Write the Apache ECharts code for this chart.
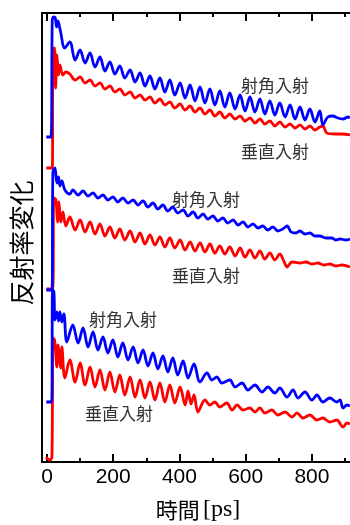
<!DOCTYPE html>
<html>
<head>
<meta charset="utf-8">
<script src="https://cdn.jsdelivr.net/npm/echarts@6/dist/echarts.min.js"></script>
<style>
  html, body { margin: 0; padding: 0; background: #fff; }
  #chart { width: 350px; height: 525px; }
</style>
</head>
<body>
<div id="chart"></div>
<script>
// time axis ticks [ps]
const majorTicks = [0, 200, 400, 600, 800]
const minorTicks = [100, 300, 500, 700, 900]

const obliqueLabel = "射角入射"
const normalLabel = "垂直入射"

// [time ps, reflectance change (arb., offset per pair)]
const topOblique = [[-2,325],[12,325],[16,442],[20,445],[25,444],[29,435],[33,441],[40,432],[54,414],[69,420],[85,402],[100,412],[115,399],[130,409],[145,395],[160,405],[175,391],[190,400],[205,388],[220,396],[235,384],[251,392],[266,380],[281,389],[296,376],[311,386],[326,373],[341,384],[356,370],[371,382],[386,367],[402,379],[417,364],[432,377],[447,361],[462,375],[477,359],[492,373],[507,357],[522,371],[537,355],[552,369],[568,353],[583,367],[598,351],[613,365],[628,350],[643,363],[658,348],[673,361],[688,347],[703,359],[719,345],[734,357],[749,343],[764,355],[779,342],[794,353],[809,340],[824,351],[833,337],[848,345],[863,346],[878,344],[894,343],[909,345],[915,344]]

const topNormal = [[-2,294],[16,294],[18,412],[23,414],[26,374],[30,407],[35,387],[39,397],[48,387],[57,390],[69,388],[85,382],[100,385],[115,379],[130,382],[145,376],[160,379],[175,373],[190,376],[205,370],[220,373],[235,367],[251,370],[266,364],[281,367],[296,362],[311,365],[326,359],[341,363],[356,357],[371,360],[386,354],[402,358],[417,352],[432,356],[447,350],[462,354],[477,348],[492,352],[507,346],[522,350],[537,344],[552,348],[568,343],[583,346],[598,341],[613,344],[628,339],[643,343],[658,338],[673,341],[688,336],[703,340],[719,335],[734,338],[749,334],[764,337],[779,333],[794,336],[809,332],[824,335],[833,336],[845,329],[869,328],[891,328],[915,327]]

const midOblique = [[-2,172],[15,172],[18,290],[24,294],[30,279],[35,285],[39,276],[45,281],[54,272],[69,268],[78,272],[94,267],[109,271],[124,266],[139,269],[154,264],[169,267],[184,262],[199,265],[214,260],[229,264],[245,259],[260,262],[275,257],[290,261],[305,255],[320,259],[335,253],[350,257],[365,251],[380,255],[395,249],[411,252],[426,246],[441,250],[456,244],[471,248],[486,243],[501,246],[516,241],[531,244],[546,239],[562,242],[577,237],[592,240],[607,235],[622,238],[637,234],[652,236],[667,232],[682,235],[697,231],[712,233],[725,236],[737,230],[752,229],[764,231],[779,228],[794,229],[809,226],[824,226],[842,224],[860,224],[872,222],[885,223],[903,222],[915,223]]

const midNormal = [[-2,173],[17,173],[21,264],[27,262],[32,240],[36,260],[42,240],[48,250],[57,236],[69,245],[85,232],[100,242],[115,230],[130,240],[145,228],[160,238],[175,226],[190,235],[205,224],[220,233],[235,222],[251,231],[266,220],[281,229],[296,218],[311,227],[326,217],[341,225],[356,215],[371,224],[386,214],[402,222],[417,212],[432,220],[447,211],[462,219],[477,210],[492,218],[507,209],[522,216],[537,208],[552,215],[568,206],[583,214],[598,205],[613,212],[628,204],[643,211],[658,203],[673,209],[688,202],[703,208],[715,201],[725,195],[740,200],[764,199],[782,200],[800,198],[818,199],[836,197],[854,198],[872,196],[891,197],[915,195]]

const lowOblique = [[-2,60],[14,60],[17,172],[21,170],[24,142],[30,150],[35,141],[39,150],[45,140],[51,148],[60,120],[78,137],[94,119],[109,134],[124,115],[139,130],[154,112],[169,125],[184,109],[199,122],[214,105],[229,119],[245,102],[260,115],[275,99],[290,112],[305,96],[320,109],[335,93],[350,106],[365,90],[380,104],[395,87],[411,101],[426,84],[444,98],[462,80],[483,89],[498,82],[513,85],[528,79],[552,82],[568,75],[589,79],[607,72],[628,77],[649,70],[667,75],[688,69],[703,74],[725,65],[743,72],[758,64],[779,70],[800,62],[815,67],[833,60],[854,64],[875,60],[885,62],[894,54],[906,57],[915,56]]

const lowNormal = [[-2,5],[3,3],[9,2],[15,5],[18,124],[23,122],[30,95],[33,117],[42,94],[45,115],[54,84],[69,102],[85,80],[100,99],[115,77],[130,95],[145,75],[160,92],[175,72],[190,90],[205,70],[220,87],[235,67],[251,85],[266,65],[281,82],[296,64],[311,80],[326,62],[341,79],[356,60],[371,77],[386,59],[402,75],[417,57],[426,71],[435,58],[444,67],[456,50],[477,62],[492,57],[507,60],[522,55],[543,59],[559,52],[574,57],[592,52],[613,54],[628,50],[643,54],[658,49],[679,52],[697,47],[719,50],[740,45],[755,49],[773,44],[794,47],[815,42],[833,44],[854,40],[875,42],[894,35],[906,39],[915,38]]

const chart = echarts.init(document.getElementById("chart"), null, { renderer: "canvas" })

// one x axis per tick row; they all share the same scale
function timeAxis(position, ticks, len, showLabel, showLine) {
  return {
    type: "value",
    position: position,
    min: -15,
    max: 915,
    axisLine: { show: showLine, onZero: false, lineStyle: { color: "#000", width: 2 } },
    axisTick: { show: true, inside: true, length: len, customValues: ticks, lineStyle: { color: "#000", width: 2 } },
    axisLabel: {
      show: showLabel,
      customValues: ticks,
      margin: 5,
      color: "#000",
      fontSize: 21,
      fontFamily: "Liberation Sans"
    },
    splitLine: { show: false }
  }
}

function trace(data, color) {
  return {
    type: "line",
    data: data,
    xAxisIndex: 0,
    yAxisIndex: 0,
    symbol: "none",
    smooth: 0.35,
    silent: true,
    lineStyle: { color: color, width: 2.8 }
  }
}

const labelFont = { fontSize: 17, fontFamily: "Noto Sans CJK JP", fill: "#333", align: "center", verticalAlign: "middle" }

const option = {
  animation: false,
  backgroundColor: "#fff",
  grid: { left: 42, right: 0, top: 13, bottom: 63, containLabel: false },
  xAxis: [
    timeAxis("bottom", majorTicks, 8, true, true),
    timeAxis("bottom", minorTicks, 4, false, false),
    timeAxis("top", majorTicks, 8, false, true),
    timeAxis("top", minorTicks, 4, false, false)
  ],
  yAxis: {
    type: "value",
    min: 0,
    max: 449,
    axisLine: { show: true, onZero: false, lineStyle: { color: "#000", width: 2 } },
    axisTick: { show: false },
    axisLabel: { show: false },
    splitLine: { show: false }
  },
  series: [
    trace(topNormal, "#ff0000"),
    trace(topOblique, "#0000ff"),
    trace(midNormal, "#ff0000"),
    trace(midOblique, "#0000ff"),
    trace(lowNormal, "#ff0000"),
    trace(lowOblique, "#0000ff")
  ],
  graphic: [
    { type: "text", x: 275, y: 86, style: Object.assign({ text: obliqueLabel }, labelFont) },
    { type: "text", x: 275, y: 152, style: Object.assign({ text: normalLabel }, labelFont) },
    { type: "text", x: 206, y: 200, style: Object.assign({ text: obliqueLabel }, labelFont) },
    { type: "text", x: 206, y: 276, style: Object.assign({ text: normalLabel }, labelFont) },
    { type: "text", x: 123, y: 320, style: Object.assign({ text: obliqueLabel }, labelFont) },
    { type: "text", x: 119, y: 414, style: Object.assign({ text: normalLabel }, labelFont) },
    {
      type: "text", x: 21, y: 243, rotation: Math.PI / 2,
      style: { text: "反射率変化", fontSize: 25, fontFamily: "Noto Sans CJK JP", fill: "#000", align: "center", verticalAlign: "middle" }
    },
    {
      type: "text", x: 198, y: 510,
      style: {
        text: "{a|時間} {b|[ps]}",
        align: "center",
        verticalAlign: "middle",
        rich: {
          a: { fontSize: 22, fontFamily: "Noto Sans CJK JP", fill: "#000" },
          b: { fontSize: 24, fontFamily: "Liberation Serif", fill: "#000" }
        }
      }
    }
  ]
}

chart.setOption(option)
</script>
</body>
</html>
